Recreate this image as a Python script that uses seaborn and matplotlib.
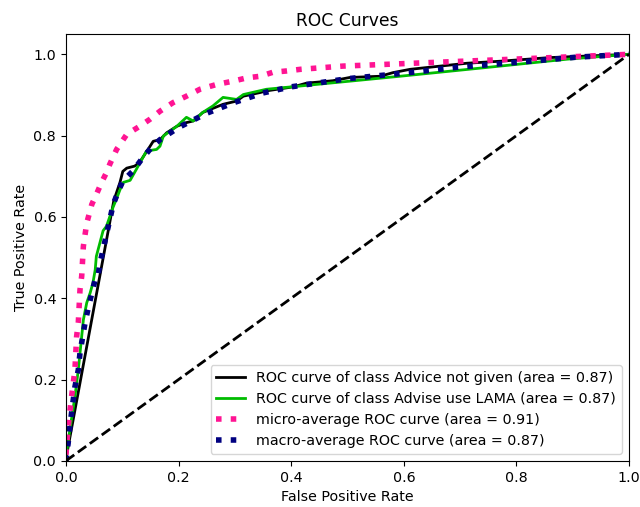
"""
ROC curves (two classes + micro/macro averages), redrawn with seaborn
"""

import matplotlib
matplotlib.use('Agg')
import matplotlib.pyplot as plt
import seaborn as sns
import numpy as np

plt.rcParams['font.size'] = 10.3

# ----------------------------------------------------------------------------
# Data
# ----------------------------------------------------------------------------
class_names = ['Advice not given', 'Advise use LAMA']
class_auc = [0.87, 0.87]
micro_auc = 0.91
macro_auc = 0.87

fpr_not_given = [0.0, 0.0, 0.085, 0.096, 0.101, 0.108, 0.122, 0.126, 0.134, 0.149,
                 0.155, 0.167, 0.179, 0.197, 0.214, 0.226, 0.243, 0.279, 0.303,
                 0.315, 0.345, 0.356, 0.404, 0.427, 0.474, 0.504, 0.558, 0.581,
                 0.611, 0.712, 0.771, 0.86, 1.0]
tpr_not_given = [0.0, 0.01, 0.64, 0.685, 0.712, 0.72, 0.725, 0.729, 0.741, 0.773,
                 0.786, 0.79, 0.807, 0.823, 0.832, 0.836, 0.857, 0.877, 0.885,
                 0.897, 0.906, 0.91, 0.92, 0.929, 0.935, 0.943, 0.946, 0.955,
                 0.963, 0.978, 0.983, 0.992, 1.0]

fpr_lama = [0.0, 0.0, 0.007, 0.016, 0.022, 0.028, 0.031, 0.037, 0.043, 0.048,
            0.052, 0.054, 0.066, 0.072, 0.084, 0.09, 0.096, 0.102, 0.114, 0.125,
            0.143, 0.161, 0.167, 0.173, 0.197, 0.214, 0.226, 0.243, 0.261,
            0.279, 0.303, 0.315, 0.356, 0.416, 0.593, 0.771, 0.89, 1.0]
tpr_lama = [0.0, 0.02, 0.076, 0.158, 0.224, 0.306, 0.347, 0.389, 0.413, 0.438,
            0.47, 0.503, 0.566, 0.577, 0.625, 0.645, 0.667, 0.685, 0.69, 0.717,
            0.762, 0.766, 0.774, 0.799, 0.823, 0.845, 0.836, 0.857, 0.873,
            0.894, 0.889, 0.901, 0.914, 0.922, 0.946, 0.971, 0.988, 1.0]

fpr_micro = [0.0, 0.0, 0.004, 0.01, 0.016, 0.019, 0.022, 0.025, 0.028, 0.031,
             0.037, 0.046, 0.054, 0.063, 0.072, 0.078, 0.09, 0.108, 0.131, 0.149,
             0.167, 0.19, 0.214, 0.238, 0.268, 0.297, 0.321, 0.345, 0.368,
             0.392, 0.416, 0.492, 0.652, 0.83, 1.0]
tpr_micro = [0.0, 0.03, 0.084, 0.158, 0.224, 0.306, 0.34, 0.421, 0.454, 0.528,
             0.585, 0.631, 0.655, 0.684, 0.709, 0.73, 0.766, 0.803, 0.823, 0.84,
             0.86, 0.881, 0.897, 0.914, 0.926, 0.934, 0.942, 0.946, 0.956,
             0.959, 0.963, 0.971, 0.98, 0.99, 1.0]

fpr_macro = [0.0, 0.004, 0.007, 0.01, 0.016, 0.022, 0.025, 0.034, 0.039, 0.046,
             0.052, 0.057, 0.06, 0.066, 0.072, 0.078, 0.084, 0.093, 0.101, 0.119,
             0.134, 0.152, 0.167, 0.2, 0.25, 0.3, 0.35, 0.4, 0.5, 0.611, 0.694,
             0.8, 0.907, 1.0]
tpr_macro = [0.0, 0.044, 0.084, 0.118, 0.182, 0.224, 0.266, 0.34, 0.372, 0.413,
             0.446, 0.454, 0.483, 0.52, 0.557, 0.594, 0.631, 0.663, 0.688, 0.713,
             0.741, 0.771, 0.79, 0.82, 0.855, 0.882, 0.905, 0.92, 0.94, 0.955,
             0.968, 0.98, 0.993, 1.0]

# ----------------------------------------------------------------------------
# Plot
# ----------------------------------------------------------------------------
fig = plt.figure(figsize=(6.4, 5.07), dpi=100)
ax = fig.add_axes([0.103, 0.091, 0.880, 0.842])

cmap = plt.get_cmap('nipy_spectral')
class_curves = [(fpr_not_given, tpr_not_given), (fpr_lama, tpr_lama)]
for i, (fpr, tpr) in enumerate(class_curves):
    sns.lineplot(x=fpr, y=tpr, sort=False, ax=ax, lw=2,
                 color=cmap(float(i) / len(class_names)),
                 label='ROC curve of class {0} (area = {1:0.2f})'.format(
                     class_names[i], class_auc[i]))

sns.lineplot(x=fpr_micro, y=tpr_micro, sort=False, ax=ax,
             label='micro-average ROC curve (area = {0:0.2f})'.format(micro_auc),
             color='deeppink', linestyle=':', linewidth=4)
sns.lineplot(x=fpr_macro, y=tpr_macro, sort=False, ax=ax,
             label='macro-average ROC curve (area = {0:0.2f})'.format(macro_auc),
             color='navy', linestyle=':', linewidth=4)

ax.plot([0, 1], [0, 1], 'k--', lw=2)
ax.set_xlim([0.0, 1.0])
ax.set_ylim([0.0, 1.05])
ax.set_title('ROC Curves', fontsize='large')
ax.set_xlabel('False Positive Rate', fontsize='medium')
ax.set_ylabel('True Positive Rate', fontsize='medium')
ax.tick_params(labelsize='medium')
ax.legend(loc='lower right', fontsize='medium')

plt.savefig('out.png', dpi=100)
plt.close()
